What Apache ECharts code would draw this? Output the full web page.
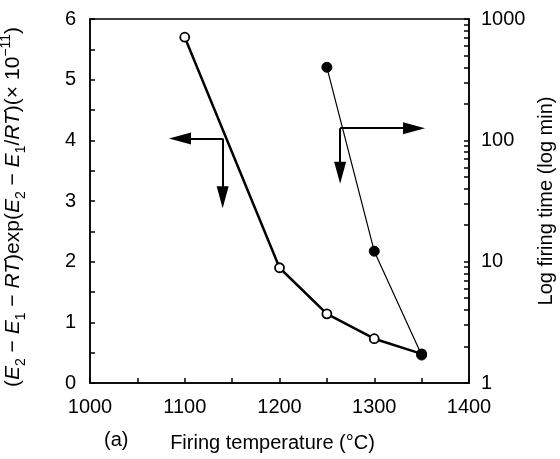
<!DOCTYPE html>
<html><head><meta charset="utf-8">
<script src="https://cdn.jsdelivr.net/npm/echarts@6/dist/echarts.min.js"></script>
<style>html,body{margin:0;padding:0;background:#fff}#c{width:560px;height:459px}</style>
</head><body><div id="c"></div>
<script>
const temps = [1100, 1200, 1250, 1300, 1350];
const rateValues = [5.7, 1.9, 1.14, 0.73, 0.48];
const timeTemps = [1250, 1300, 1350];
const timeValues = [400, 12.2, 1.7];
const xTicks = [1000, 1100, 1200, 1300, 1400];
const leftTicks = [0, 1, 2, 3, 4, 5, 6];
const rightLabels = [1, 10, 100, 1000];
const rightMinorTicks = [1,2,3,4,5,6,7,8,9,10,20,30,40,50,60,70,80,90,100,200,300,400,500,600,700,800,900,1000];

const FONT = 'Liberation Sans, Arial, sans-serif';
const chart = echarts.init(document.getElementById('c'));
const arrowStyle = {color: '#000', width: 2, type: 'solid'};
const plain = v => String(v);
chart.setOption({
  animation: false,
  backgroundColor: '#fff',
  textStyle: {fontFamily: FONT, color: '#000'},
  grid: {left: 90, right: 91, top: 19, bottom: 76, containLabel: false, outerBoundsMode: 'none',
    show: true, borderColor: '#000', borderWidth: 1.5, backgroundColor: 'transparent'},
  xAxis: {
    type: 'value', min: xTicks[0], max: xTicks[xTicks.length - 1], interval: 100,
    axisLine: {lineStyle: {color: '#000', width: 1.5}},
    axisTick: {inside: true, length: 5, lineStyle: {color: '#000', width: 1.5}},
    minorTick: {show: true, splitNumber: 2, length: 5, lineStyle: {color: '#000', width: 1.5}},
    splitLine: {show: false},
    axisLabel: {color: '#000', fontSize: 20, fontFamily: FONT, margin: 14, formatter: plain},
    name: 'Firing temperature (°C)', nameLocation: 'middle', nameGap: 50,
    nameTextStyle: {color: '#000', fontSize: 20, fontFamily: FONT, padding: [0, 14, 0, 0]}
  },
  yAxis: [{
    type: 'value', min: 0, max: 6, interval: 1, position: 'left',
    axisLine: {show: true, lineStyle: {color: '#000', width: 1.5}},
    axisTick: {inside: true, length: 5, lineStyle: {color: '#000', width: 1.5}},
    minorTick: {show: true, splitNumber: 2, length: 5, lineStyle: {color: '#000', width: 1.5}},
    splitLine: {show: false},
    axisLabel: {color: '#000', fontSize: 20, fontFamily: FONT, margin: 14, customValues: leftTicks, formatter: plain},
    name: '{n|(}{i|E}{s|2}{n| − }{i|E}{s|1}{n| − }{i|RT}{n|)exp(}{i|E}{s|2}{n| − }{i|E}{s|1}{n|/}{i|RT}{n|)(× 10}{p|−11}{n|)}',
    nameLocation: 'middle', nameRotate: 90, nameGap: 62,
    nameTextStyle: {
      color: '#000', fontFamily: FONT, padding: [0, 12, 0, 0],
      rich: {
        n: {fontSize: 21, fontFamily: FONT, color: '#000', lineHeight: 29, verticalAlign: 'middle'},
        i: {fontSize: 21, fontFamily: FONT, fontStyle: 'italic', color: '#000', lineHeight: 29, verticalAlign: 'middle'},
        s: {fontSize: 14, fontFamily: FONT, color: '#000', lineHeight: 29, verticalAlign: 'bottom'},
        p: {fontSize: 14, fontFamily: FONT, color: '#000', lineHeight: 29, verticalAlign: 'top'}
      }
    }
  }, {
    type: 'log', logBase: 10, min: 1, max: 1000, position: 'right',
    axisLine: {show: true, lineStyle: {color: '#000', width: 1.5}},
    axisTick: {inside: true, length: 5, customValues: rightMinorTicks, lineStyle: {color: '#000', width: 1.5}},
    splitLine: {show: false},
    axisLabel: {color: '#000', fontSize: 20, fontFamily: FONT, margin: 12, customValues: rightLabels, formatter: plain},
    name: 'Log firing time (log min)', nameLocation: 'middle', nameRotate: 90, nameGap: 64,
    nameTextStyle: {color: '#000', fontSize: 20, fontFamily: FONT}
  }],
  series: [{
    type: 'line', yAxisIndex: 0, data: temps.map((t, i) => [t, rateValues[i]]),
    symbol: 'circle', symbolSize: 9, showSymbol: true,
    lineStyle: {color: '#000', width: 2.5},
    itemStyle: {color: '#fff', borderColor: '#000', borderWidth: 1.8},
    z: 2,
    markLine: {
      silent: true, symbol: ['none', 'triangle'], symbolSize: [12, 22], label: {show: false},
      lineStyle: arrowStyle,
      data: [
        [{coord: [1140, 4.03]}, {coord: [1095, 4.03]}],
        [{coord: [1140, 4.03]}, {coord: [1140, 3.06]}]
      ]
    }
  }, {
    type: 'line', yAxisIndex: 1, data: timeTemps.map((t, i) => [t, timeValues[i]]),
    symbol: 'circle', symbolSize: 10, showSymbol: true,
    lineStyle: {color: '#000', width: 1.2},
    itemStyle: {color: '#000', borderColor: '#000'},
    z: 3,
    markLine: {
      silent: true, symbol: ['none', 'triangle'], symbolSize: [12, 22], label: {show: false},
      lineStyle: arrowStyle,
      data: [
        [{coord: [1264, 126]}, {coord: [1342, 126]}],
        [{coord: [1264, 126]}, {coord: [1264, 54]}]
      ]
    }
  }],
  graphic: [{
    type: 'text', left: 104, top: 430,
    style: {text: '(a)', fontSize: 20, fontFamily: FONT, fill: '#000'}
  }]
});
</script></body></html>
